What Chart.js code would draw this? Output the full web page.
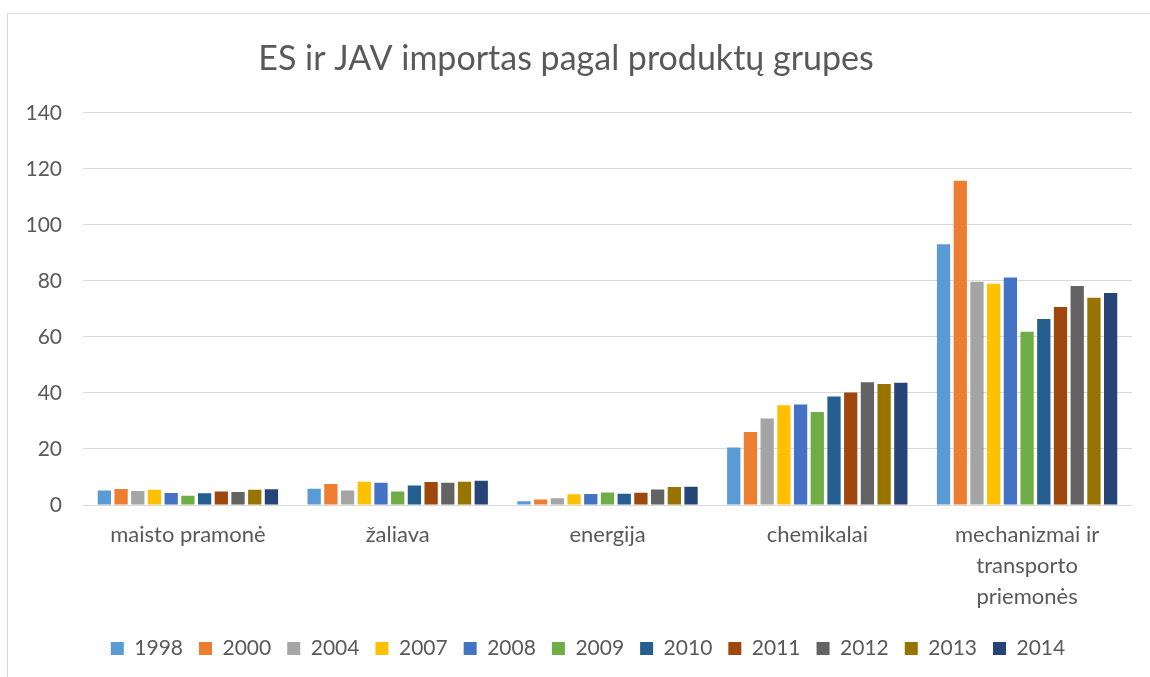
<!DOCTYPE html>
<html>
<head>
<meta charset="utf-8">
<script src="https://cdn.jsdelivr.net/npm/chart.js@4/dist/chart.umd.min.js"></script>
<style>
html,body{margin:0;padding:0;background:#fff;}
#wrap{width:1150px;height:677px;position:relative;}
</style>
</head>
<body>
<div id="wrap"><canvas id="c" width="1150" height="677"></canvas></div>
<script>
const categories = ["maisto pramonė", "žaliava", "energija", "chemikalai", ["mechanizmai ir", "transporto", "priemonės"]];
const years = ["1998", "2000", "2004", "2007", "2008", "2009", "2010", "2011", "2012", "2013", "2014"];
const colors = ["#5B9BD5", "#ED7D31", "#A5A5A5", "#FFC000", "#4472C4", "#70AD47", "#255E91", "#9E480E", "#636363", "#997300", "#264478"];
const v1998 = [5.2, 5.8, 1.3, 20.5, 93.1];
const v2000 = [5.7, 7.5, 2.0, 26.1, 115.7];
const v2004 = [5.0, 5.2, 2.4, 30.9, 79.7];
const v2007 = [5.4, 8.3, 3.8, 35.6, 79.0];
const v2008 = [4.3, 7.9, 3.9, 35.9, 81.2];
const v2009 = [3.3, 4.8, 4.5, 33.2, 61.8];
const v2010 = [4.2, 7.0, 4.0, 38.7, 66.4];
const v2011 = [4.8, 8.2, 4.4, 40.2, 70.7];
const v2012 = [4.6, 7.9, 5.5, 43.8, 78.2];
const v2013 = [5.4, 8.3, 6.4, 43.2, 74.0];
const v2014 = [5.6, 8.7, 6.5, 43.6, 75.7];
const series = [v1998, v2000, v2004, v2007, v2008, v2009, v2010, v2011, v2012, v2013, v2014];
const yTicks = [0, 20, 40, 60, 80, 100, 120, 140];

const FONT = "Lato, 'Open Sans', sans-serif";
const GREY = "#595959";

const frame = {
  id: 'frame',
  beforeDraw(chart) {
    const ctx = chart.ctx;
    ctx.save();
    ctx.fillStyle = '#fff';
    ctx.fillRect(0, 0, chart.width, chart.height);
    ctx.strokeStyle = '#d9d9d9';
    ctx.lineWidth = 1;
    ctx.strokeRect(7.5, 13.5, 1200, 700);
    ctx.restore();
  }
};

const legendShift = {
  id: 'legendShift',
  afterLayout(chart) {
    if (chart.legend) { chart.legend.left += 22; chart.legend.right += 22; }
  }
};

new Chart(document.getElementById('c'), {
  type: 'bar',
  data: {
    labels: categories,
    datasets: years.map((y, i) => ({
      label: y,
      data: series[i],
      backgroundColor: colors[i],
      borderWidth: 0,
      categoryPercentage: 0.876,
      barPercentage: 0.795
    }))
  },
  options: {
    responsive: false,
    animation: false,
    layout: { padding: { left: 0, right: 18, top: 0, bottom: 8 } },
    plugins: {
      title: {
        display: true,
        text: 'ES ir JAV importas pagal produktų grupes',
        color: GREY,
        font: { family: FONT, size: 34, weight: 'normal' },
        padding: { top: 39, bottom: 33 }
      },
      legend: {
        position: 'bottom',
        labels: {
          color: GREY,
          font: { family: FONT, size: 21 },
          boxWidth: 13,
          boxHeight: 13,
          padding: 16
        }
      },
      tooltip: { enabled: false }
    },
    scales: {
      x: {
        grid: { display: false, drawTicks: false },
        border: { display: false },
        ticks: {
          color: GREY,
          font: { family: FONT, size: 22, lineHeight: 1.4 },
          padding: 15,
          maxRotation: 0,
          autoSkip: false
        },
        afterFit(scale) { scale.height = 117; }
      },
      y: {
        min: 0,
        max: 140,
        grid: { color: '#d9d9d9', drawTicks: false },
        border: { display: false },
        afterBuildTicks(scale) { scale.ticks = yTicks.map(v => ({ value: v })); },
        ticks: {
          color: GREY,
          font: { family: FONT, size: 21 },
          padding: 21
        },
        afterFit(scale) { scale.width = 83; }
      }
    }
  },
  plugins: [frame, legendShift]
});
</script>
</body>
</html>
